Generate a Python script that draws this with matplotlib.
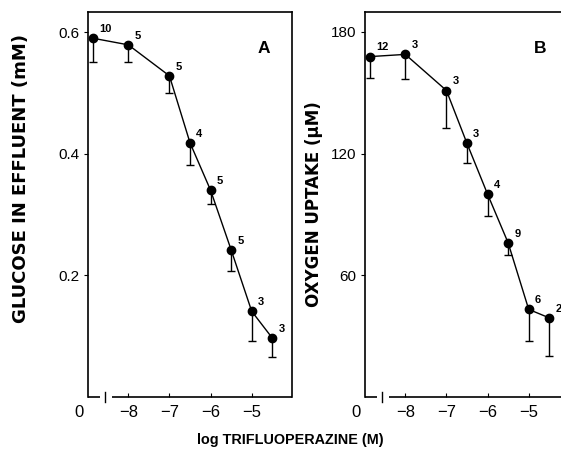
import matplotlib.pyplot as plt

plt.rcParams['font.family'] = ['Liberation Sans', 'DejaVu Sans']

# log concentration (control point drawn at the left, labelled "0")
log_conc = [-8.87, -8, -7, -6.5, -6, -5.5, -5, -4.5]

glucose = [0.590, 0.579, 0.528, 0.418, 0.340, 0.242, 0.141, 0.097]
glucose_err = [0.039, 0.029, 0.028, 0.036, 0.022, 0.035, 0.049, 0.032]
glucose_n = [10, 5, 5, 4, 5, 5, 3, 3]

oxygen = [167.8, 168.9, 151.1, 125.0, 100.0, 76.0, 43.2, 39.0]
oxygen_err = [10.3, 12.1, 18.5, 9.5, 10.6, 5.9, 15.8, 19.0]
oxygen_n = [12, 3, 3, 3, 4, 9, 6, 2]

xticks = [-8, -7, -6, -5]
xticklabels = ['\u22128', '\u22127', '\u22126', '\u22125']


def panel(ax, y, err, n, ymax, yticks, yticklabels, ylabel, ylabel_size, letter):
    ax.errorbar(log_conc, y, yerr=[err, [0] * len(err)], fmt='none',
                ecolor='black', elinewidth=1.0, capsize=2.8, capthick=1.0, zorder=2)
    ax.plot(log_conc, y, '-o', color='black', lw=1.0, ms=6, zorder=3)
    for xi, yi, ni in zip(log_conc, y, n):
        ax.annotate(str(ni), (xi, yi), xytext=(4.5, 3), textcoords='offset points',
                    fontsize=8, fontweight='bold', ha='left', va='bottom')

    ax.set_xlim(-8.98, -4.02)
    ax.set_ylim(0, ymax)
    ax.set_xticks(xticks)
    ax.set_xticklabels(xticklabels, fontsize=12)
    ax.set_yticks(yticks)
    ax.set_yticklabels(yticklabels, fontsize=11)
    ax.tick_params(axis='x', direction='in', length=3, width=0.8, pad=6)
    ax.tick_params(axis='y', direction='out', length=3, width=0.8, pad=3)
    for s in ax.spines.values():
        s.set_linewidth(1.2)
    ax.spines['bottom'].set_visible(False)

    # broken x axis
    kw = dict(color='black', lw=1.2, clip_on=False, solid_capstyle='butt')
    ax.plot([-8.98, -8.69], [0, 0], **kw)
    ax.plot([-8.395, -4.02], [0, 0], **kw)
    ax.plot([-8.565, -8.565], [-0.013 * ymax, 0.013 * ymax], color='black', lw=1.0, clip_on=False)

    ax.text(-9.2, -0.02 * ymax, '0', fontsize=12, ha='center', va='top')
    ax.set_ylabel(ylabel, fontsize=ylabel_size, fontweight='bold', family='DejaVu Sans')
    ax.text(0.86, 0.905, letter, transform=ax.transAxes, fontsize=12.5,
            fontweight='bold', ha='center', va='center')


fig = plt.figure(figsize=(5.61, 4.53), dpi=100)
ax1 = fig.add_axes([88 / 561, 56 / 453, 204 / 561, 385 / 453])
ax2 = fig.add_axes([365 / 561, 56 / 453, 204 / 561, 385 / 453])

panel(ax1, glucose, glucose_err, glucose_n, 0.633, [0.2, 0.4, 0.6],
      ['0.2', '0.4', '0.6'], 'GLUCOSE IN EFFLUENT (mM)', 13, 'A')
panel(ax2, oxygen, oxygen_err, oxygen_n, 189.8, [60, 120, 180],
      ['60', '120', '180'], 'OXYGEN UPTAKE (\u03bcM)', 12, 'B')

ax1.yaxis.set_label_coords(-0.285, 0.567)
ax2.yaxis.set_label_coords(-0.205, 0.50)

fig.text(290 / 561, 1 - 440 / 453, 'log TRIFLUOPERAZINE (M)', fontsize=10.4,
         fontweight='bold', ha='center', va='center')

fig.savefig('out.png', dpi=100)
